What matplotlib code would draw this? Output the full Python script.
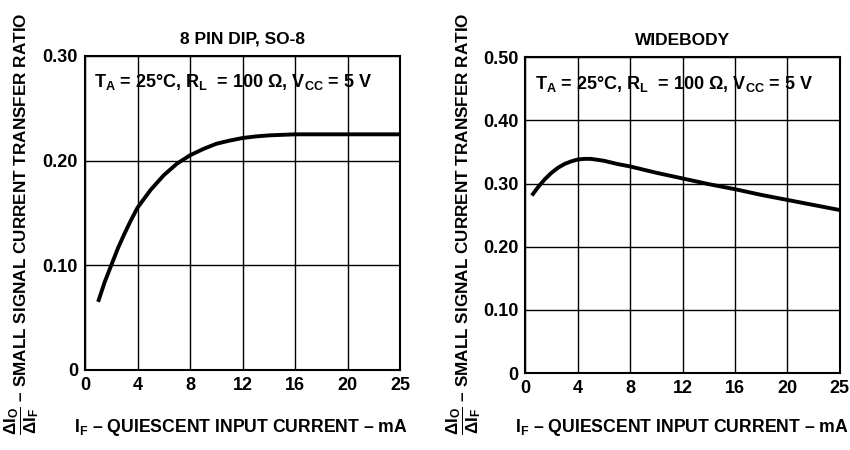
import matplotlib.pyplot as plt
import numpy as np

plt.rcParams['font.family'] = ['Liberation Sans', 'DejaVu Sans']
plt.rcParams['font.weight'] = 'bold'
plt.rcParams['mathtext.fontset'] = 'custom'
plt.rcParams['mathtext.rm'] = 'Liberation Sans:bold'
plt.rcParams['mathtext.it'] = 'Liberation Sans:bold'
plt.rcParams['mathtext.bf'] = 'Liberation Sans:bold'

# x axis: six equal divisions, last one labelled 25 (as in the datasheet)
x_ticks = [0, 4, 8, 12, 16, 20, 24]
x_tick_labels = ['0', '4', '8', '12', '16', '20', '25']

# 8 pin DIP, SO-8
dip_if = [1, 1.5, 2, 2.5, 3, 3.5, 4, 5, 6, 7, 8, 9, 10, 11, 12, 13, 14, 16, 20, 24]
dip_ctr = [0.065, 0.084, 0.100, 0.116, 0.130, 0.143, 0.155, 0.172, 0.186, 0.197, 0.205, 0.211, 0.216, 0.219, 0.2215, 0.223, 0.224, 0.225, 0.225, 0.225]
dip_yticks = [0, 0.10, 0.20, 0.30]
dip_ylabels = ['0', '0.10', '0.20', '0.30']

# widebody
wb_if = [0.5, 1, 1.5, 2, 2.5, 3, 3.5, 4, 4.5, 5, 6, 7, 8, 10, 12, 14, 16, 18, 20, 22, 24]
wb_ctr = [0.281, 0.295, 0.307, 0.317, 0.325, 0.331, 0.335, 0.338, 0.339, 0.339, 0.336, 0.331, 0.327, 0.317, 0.308, 0.299, 0.291, 0.282, 0.274, 0.266, 0.258]
wb_yticks = [0, 0.10, 0.20, 0.30, 0.40, 0.50]
wb_ylabels = ['0', '0.10', '0.20', '0.30', '0.40', '0.50']

cond = r'T$_{\mathrm{A}}$ = 25°C, R$_{\mathrm{L}}$  = 100 Ω, V$_{\mathrm{CC}}$ = 5 V'
xlab = r'I$_{\mathrm{F}}$ – QUIESCENT INPUT CURRENT – mA'
ylab = r'$\dfrac{\Delta \mathrm{I_O}}{\Delta \mathrm{I_F}}$ – SMALL SIGNAL CURRENT TRANSFER RATIO'

fig = plt.figure(figsize=(8.5, 4.5), dpi=100)
ax1 = fig.add_axes([0.100, 0.178, 0.371, 0.698])
ax2 = fig.add_axes([0.618, 0.171, 0.370, 0.702])


def style(ax, yt, yl, ymax, title):
    ax.set_xlim(0, 24)
    ax.set_ylim(0, ymax)
    ax.set_xticks(x_ticks)
    ax.set_xticklabels(x_tick_labels)
    ax.set_yticks(yt)
    ax.set_yticklabels(yl)
    ax.tick_params(length=0, labelsize=13, pad=5)
    for t in ax.get_xticklabels() + ax.get_yticklabels():
        t.set_fontweight('bold')
    ax.grid(True, color='black', linewidth=1)
    for s in ax.spines.values():
        s.set_linewidth(1.5)
    ax.set_title(title, fontsize=12.5, fontweight='bold', pad=9)
    ax.text(0.03, 0.915, cond, transform=ax.transAxes, fontsize=13,
            fontweight='bold', va='center', ha='left')


ax1.plot(dip_if, dip_ctr, color='black', linewidth=2.8, solid_capstyle='butt')
style(ax1, dip_yticks, dip_ylabels, 0.30, '8 PIN DIP, SO-8')

ax2.plot(wb_if, wb_ctr, color='black', linewidth=2.8, solid_capstyle='butt')
style(ax2, wb_yticks, wb_ylabels, 0.50, 'WIDEBODY')

fig.text(0.284, 0.050, xlab, ha='center', va='center', fontsize=12.7, fontweight='bold')
fig.text(0.802, 0.050, xlab, ha='center', va='center', fontsize=12.7, fontweight='bold')
fig.text(0.025, 0.503, ylab, rotation=90, ha='center', va='center', fontsize=12.3, fontweight='bold')
fig.text(0.545, 0.503, ylab, rotation=90, ha='center', va='center', fontsize=12.3, fontweight='bold')

fig.savefig('out.png', dpi=100)
